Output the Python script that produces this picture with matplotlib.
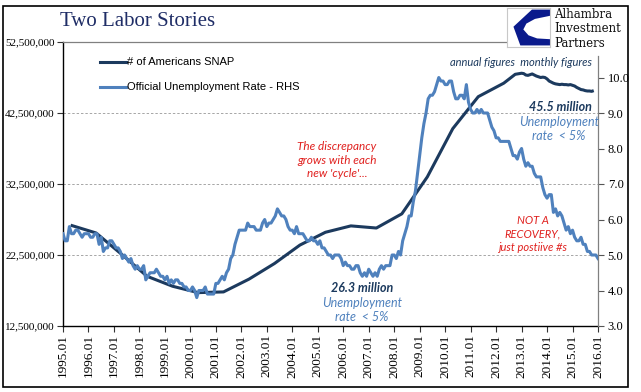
import matplotlib
matplotlib.use("Agg")
import matplotlib.pyplot as plt
from matplotlib.ticker import FuncFormatter
from matplotlib.patches import Rectangle, Polygon
from matplotlib.lines import Line2D
import numpy as np

W, H = 641, 392

# ---------------- data ----------------
years = list(range(1995, 2017))
xtick_labels = [f"{y}.01" for y in years]

# Official unemployment rate, monthly, Jan 1995 .. Jan 2016 (%)
unrate = [
    5.6, 5.4, 5.4, 5.8, 5.6, 5.6, 5.7, 5.7, 5.6, 5.5, 5.6, 5.6,  # 1995
    5.6, 5.5, 5.5, 5.6, 5.6, 5.3, 5.5, 5.1, 5.2, 5.2, 5.4, 5.4,  # 1996
    5.3, 5.2, 5.2, 5.1, 4.9, 5.0, 4.9, 4.8, 4.9, 4.7, 4.6, 4.7,  # 1997
    4.6, 4.6, 4.7, 4.3, 4.4, 4.5, 4.5, 4.5, 4.6, 4.5, 4.4, 4.4,  # 1998
    4.3, 4.4, 4.2, 4.3, 4.2, 4.3, 4.3, 4.2, 4.2, 4.1, 4.1, 4.0,  # 1999
    4.0, 4.1, 4.0, 3.8, 4.0, 4.0, 4.0, 4.1, 3.9, 3.9, 3.9, 3.9,  # 2000
    4.2, 4.2, 4.3, 4.4, 4.3, 4.5, 4.6, 4.9, 5.0, 5.3, 5.5, 5.7,  # 2001
    5.7, 5.7, 5.7, 5.9, 5.8, 5.8, 5.8, 5.7, 5.7, 5.7, 5.9, 6.0,  # 2002
    5.8, 5.9, 5.9, 6.0, 6.1, 6.3, 6.2, 6.1, 6.1, 6.0, 5.8, 5.7,  # 2003
    5.7, 5.6, 5.8, 5.6, 5.6, 5.6, 5.5, 5.4, 5.4, 5.5, 5.4, 5.4,  # 2004
    5.3, 5.4, 5.2, 5.2, 5.1, 5.0, 5.0, 4.9, 5.0, 5.0, 5.0, 4.9,  # 2005
    4.7, 4.8, 4.7, 4.7, 4.6, 4.6, 4.7, 4.7, 4.5, 4.4, 4.5, 4.4,  # 2006
    4.6, 4.5, 4.4, 4.5, 4.4, 4.6, 4.7, 4.6, 4.7, 4.7, 4.7, 5.0,  # 2007
    5.0, 4.9, 5.1, 5.0, 5.4, 5.6, 5.8, 6.1, 6.1, 6.5, 6.8, 7.3,  # 2008
    7.8, 8.3, 8.7, 9.0, 9.4, 9.5, 9.5, 9.6, 9.8, 10.0, 9.9, 9.9,  # 2009
    9.8, 9.8, 9.9, 9.9, 9.6, 9.4, 9.4, 9.5, 9.5, 9.4, 9.8, 9.3,  # 2010
    9.1, 9.0, 9.0, 9.1, 9.0, 9.1, 9.0, 9.0, 9.0, 8.8, 8.6, 8.5,  # 2011
    8.3, 8.3, 8.2, 8.2, 8.2, 8.2, 8.2, 8.0, 7.8, 7.8, 7.7, 7.9,  # 2012
    8.0, 7.7, 7.5, 7.6, 7.5, 7.5, 7.3, 7.2, 7.2, 7.2, 6.9, 6.7,  # 2013
    6.6, 6.7, 6.7, 6.2, 6.3, 6.1, 6.2, 6.1, 5.9, 5.7, 5.8, 5.6,  # 2014
    5.7, 5.5, 5.4, 5.4, 5.5, 5.3, 5.3, 5.1, 5.1, 5.0, 5.0, 5.0,  # 2015
    4.9,                                                          # 2016
]

# SNAP participants, annual figures (millions), 1995 .. 2012
snap_annual_years = list(range(1995, 2013))
snap_annual = [26.7, 25.6, 22.6, 19.5, 18.1, 17.2, 17.3, 19.1, 21.3,
               23.9, 25.7, 26.6, 26.3, 28.3, 33.5, 40.3, 44.8, 46.7]

# SNAP participants, monthly figures (millions), Oct 2012 .. Nov 2015
snap_monthly = [47.95, 48.0, 48.05, 48.1, 48.05, 47.85, 47.8, 47.9, 48.0, 47.85,
                47.7, 47.6, 47.5, 47.55, 47.5, 47.3, 47.0, 46.85, 46.7, 46.6,
                46.55, 46.5, 46.55, 46.5, 46.5, 46.45, 46.5, 46.4, 46.3, 46.1,
                45.95, 45.8, 45.75, 45.65, 45.6, 45.6, 45.55, 45.65]

left_ticks = [12.5e6, 22.5e6, 32.5e6, 42.5e6, 52.5e6]
grid_levels = [22.5e6, 32.5e6, 42.5e6]
right_ticks = [3.0, 4.0, 5.0, 6.0, 7.0, 8.0, 9.0, 10.0]

# ---------------- style ----------------
SNAP_C = "#1C3A5E"
UNR_C = "#4F81BD"
RED = "#E0201E"
NAVY_T = "#1F2D66"
SERIF = "Liberation Serif"
SANS = "Liberation Sans"
ITAL = ["Lato", "DejaVu Sans"]


def fx(x):
    return x / W


def fy(y):
    return 1 - y / H


fig = plt.figure(figsize=(W / 100, H / 100), dpi=100)
fig.patch.set_facecolor("white")

ax = fig.add_axes([fx(63), fy(326), fx(598) - fx(63), fy(42) - fy(326)])
ax.set_facecolor("none")

# SNAP series
xa = np.array(snap_annual_years) + 0.3
xm = 2012.75 + np.arange(len(snap_monthly)) / 12
snap_x = np.concatenate([xa, xm])
snap_y = np.concatenate([np.array(snap_annual), np.array(snap_monthly)]) * 1e6
ax.plot(snap_x, snap_y, color=SNAP_C, lw=2.2, solid_capstyle="butt", zorder=3)

ax.set_xlim(1995, 2016)
ax.set_ylim(12.5e6, 52.5e6)
ax.set_yticks(left_ticks)
ax.yaxis.set_major_formatter(FuncFormatter(lambda v, p: f"{int(round(v)):,}"))
ax.set_xticks(years)
ax.set_xticklabels(xtick_labels, rotation=90, fontfamily=SERIF, fontsize=9.5)
for lab in ax.get_yticklabels():
    lab.set_fontfamily(SERIF)
    lab.set_fontsize(8)
ax.tick_params(axis="both", direction="out", length=4, width=0.8, color="#333333", pad=2)
for g in grid_levels:
    ax.axhline(g, color="#A6A6A6", lw=0.7, ls=(0, (2.5, 2)), zorder=1)

ax.spines["left"].set_color("black")
ax.spines["bottom"].set_color("black")
ax.spines["left"].set_linewidth(1.0)
ax.spines["bottom"].set_linewidth(1.0)
ax.spines["top"].set_color("#808080")
ax.spines["top"].set_linewidth(0.9)
ax.spines["right"].set_visible(False)

# Unemployment (RHS)
ax2 = ax.twinx()
xu = 1995 + np.arange(len(unrate)) / 12
ax2.plot(xu, unrate, color=UNR_C, lw=2.2, zorder=3)
ax2.set_ylim(3.0, 11.0)
ax2.set_yticks(right_ticks)
ax2.set_yticklabels([f"{v:.1f}" for v in right_ticks], fontfamily=SERIF, fontsize=9)
ax2.tick_params(axis="y", direction="out", length=4, width=0.8, color="#555555", pad=3)
for s in ["left", "top", "bottom"]:
    ax2.spines[s].set_visible(False)
ax2.spines["right"].set_color("#808080")
ax2.spines["right"].set_linewidth(0.9)
ax2.spines["right"].set_bounds(3.0, 10.6)

# Title
fig.text(fx(60), fy(22), "Two Labor Stories", fontfamily=SERIF, fontsize=15,
         color=NAVY_T, va="center", ha="left")

# Legend (manual)
fig.add_artist(Line2D([fx(100), fx(126)], [fy(62), fy(62)], color=SNAP_C, lw=2.2))
fig.add_artist(Line2D([fx(100), fx(126)], [fy(87), fy(87)], color=UNR_C, lw=2.2))
fig.text(fx(127), fy(62), "# of Americans SNAP", fontfamily=SANS, fontsize=8,
         va="center", ha="left", color="black")
fig.text(fx(127), fy(87), "Official Unemployment Rate - RHS", fontfamily=SANS, fontsize=8,
         va="center", ha="left", color="black")

# Annotations
fig.text(fx(592), fy(62), "annual figures  monthly figures", fontfamily=ITAL, style="italic",
         fontsize=8, color=SNAP_C, ha="right", va="center")
fig.text(fx(560), fy(107), "45.5 million", fontfamily=ITAL, style="italic", weight="bold",
         fontsize=9, color=SNAP_C, ha="center", va="center")
fig.text(fx(559), fy(129), "Unemployment\nrate  < 5%", fontfamily=ITAL, style="italic",
         fontsize=9, color=UNR_C, ha="center", va="center", linespacing=1.25)
fig.text(fx(362), fy(288), "26.3 million", fontfamily=ITAL, style="italic", weight="bold",
         fontsize=9, color=SNAP_C, ha="center", va="center")
fig.text(fx(362), fy(310), "Unemployment\nrate  < 5%", fontfamily=ITAL, style="italic",
         fontsize=9, color=UNR_C, ha="center", va="center", linespacing=1.25)
fig.text(fx(337), fy(160), "The discrepancy\ngrows with each\nnew 'cycle'...", fontfamily=ITAL,
         style="italic", fontsize=8.5, color=RED, ha="center", va="center", linespacing=1.3)
fig.text(fx(533), fy(234), "NOT A\nRECOVERY,\njust postiive #s", fontfamily=ITAL,
         style="italic", fontsize=8, color=RED, ha="center", va="center", linespacing=1.3)

# Logo
lax = fig.add_axes([fx(507), fy(47), fx(550) - fx(507), fy(8) - fy(47)], zorder=10)
lax.set_xlim(0, 1)
lax.set_ylim(0, 1)
lax.set_xticks([])
lax.set_yticks([])
lax.set_facecolor("white")
for s in lax.spines.values():
    s.set_color("#C8C8C8")
    s.set_linewidth(0.8)
logo_shape = [(1, 0.96), (0.58, 0.96), (0.15, 0.52), (0.31, 0.04), (1, 0.04), (1, 0.2),
              (0.7, 0.22), (0.5, 0.3), (0.38, 0.45), (0.45, 0.6), (0.65, 0.72), (1, 0.8)]
lax.add_patch(Polygon(logo_shape, closed=True, facecolor="#0A1A8C", edgecolor="none"))
# white box behind logo text to interrupt the top line
fig.patches.append(Rectangle((fx(550), fy(48)), fx(600) - fx(550), fy(3) - fy(48) + 0.001,
                             transform=fig.transFigure, facecolor="white", edgecolor="none",
                             zorder=5))
fig.text(fx(554), fy(8), "Alhambra\nInvestment\nPartners", fontfamily="DejaVu Serif",
         fontsize=8.5, color="#111111", ha="left", va="top", linespacing=1.15, zorder=11)

# Outer frame
fig.patches.append(Rectangle((fx(3), fy(387)), fx(628) - fx(3), fy(6) - fy(387),
                             transform=fig.transFigure, facecolor="none",
                             edgecolor="black", lw=1.2, zorder=20))

fig.savefig("out.png", dpi=100)
